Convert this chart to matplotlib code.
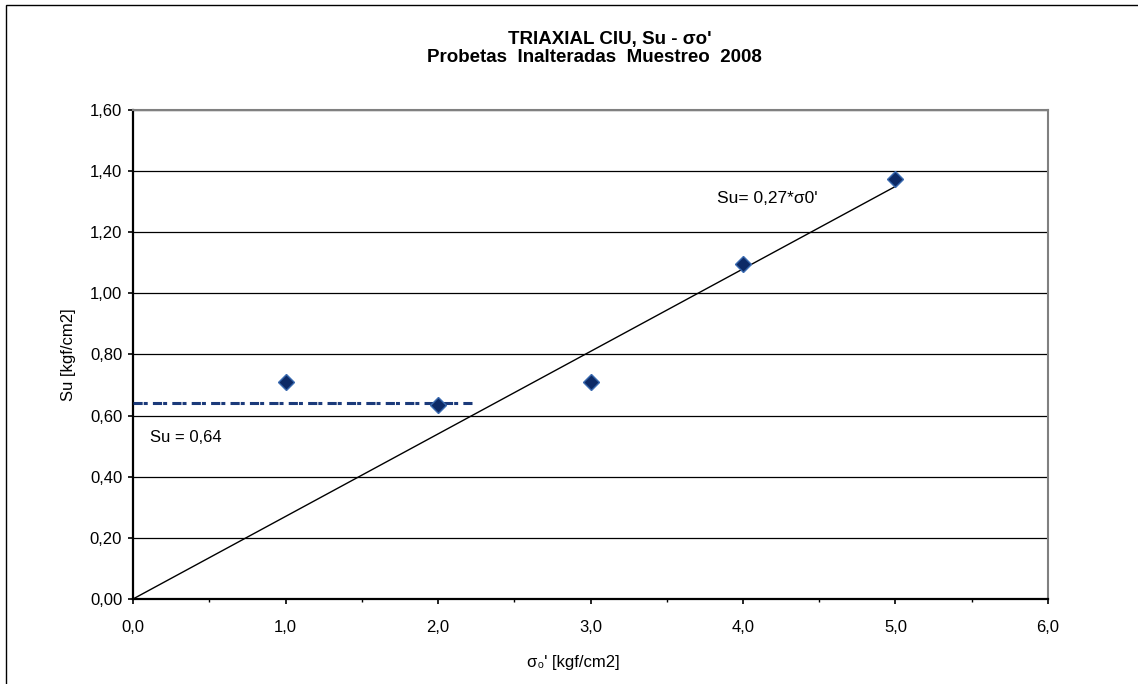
import matplotlib.pyplot as plt
from matplotlib.patches import Rectangle
from matplotlib.ticker import FuncFormatter, MultipleLocator

plt.rcParams['font.family'] = ['Liberation Sans', 'DejaVu Sans']

# datos de ensayo
sigma0 = [1.0, 2.0, 3.0, 4.0, 5.0]
su = [0.71, 0.635, 0.71, 1.095, 1.375]

# ajuste lineal y valor constante
pendiente = 0.27
recta_x = [0.0, 5.0]
su_cte = 0.64
cte_x = [0.0, 2.22]

fig = plt.figure(figsize=(11.38, 6.84), dpi=100)
ax = fig.add_axes([0.1169, 0.1243, 0.804, 0.7149])

# marco exterior
fig.patches.append(Rectangle((0.005, -0.1), 1.2, 1.093, transform=fig.transFigure,
                             fill=False, edgecolor='black', linewidth=1.0))

ax.plot(recta_x, [pendiente * x for x in recta_x], color='black', linewidth=1.0, zorder=3)
ax.plot(cte_x, [su_cte, su_cte], color='#1b3a7a', linewidth=2.2,
        dashes=(3, 0.35, 1.3, 1.7), zorder=3)
ax.plot(sigma0, su, linestyle='none', marker='D', markersize=8,
        markerfacecolor='#0d2a66', markeredgecolor='#3a6ab0', markeredgewidth=1.0, zorder=4)

ax.set_xlim(0, 6)
ax.set_ylim(0, 1.6)
ax.xaxis.set_major_locator(MultipleLocator(1.0))
ax.xaxis.set_minor_locator(MultipleLocator(0.5))
ax.yaxis.set_major_locator(MultipleLocator(0.2))
ax.xaxis.set_major_formatter(FuncFormatter(lambda v, p: f'{v:.1f}'.replace('.', ',')))
ax.yaxis.set_major_formatter(FuncFormatter(lambda v, p: f'{v:.2f}'.replace('.', ',')))
ax.tick_params(axis='both', which='major', direction='out', length=3.8, width=1.2,
               labelsize=12)
ax.tick_params(axis='y', pad=4)
ax.tick_params(axis='x', pad=11)
ax.tick_params(axis='x', which='minor', direction='out', length=2.5, width=1.0)

ax.grid(axis='y', color='black', linewidth=0.9)
ax.set_axisbelow(True)
for s in ['left', 'bottom']:
    ax.spines[s].set_linewidth(1.6)
    ax.spines[s].set_color('black')
for s in ['top', 'right']:
    ax.spines[s].set_linewidth(1.5)
    ax.spines[s].set_color('#808080')

ax.text(3.83, 1.31, "Su= 0,27*σ0'", fontsize=12.5, va='center', ha='left')
ax.text(0.11, 0.53, 'Su = 0,64', fontsize=12, va='center', ha='left')

fig.text(0.536, 0.942, "TRIAXIAL CIU, Su - σo'", fontsize=13.5, fontweight='bold',
         ha='center', va='center')
fig.text(0.522, 0.916, 'Probetas  Inalteradas  Muestreo  2008', fontsize=13.5,
         fontweight='bold', ha='center', va='center')

ax.set_xlabel("σ₀' [kgf/cm2]", fontsize=12)
ax.xaxis.set_label_coords(0.481, -0.115)
ax.set_ylabel('Su [kgf/cm2]', fontsize=12)
ax.yaxis.set_label_coords(-0.062, 0.5)

fig.savefig('out.png', dpi=100)
